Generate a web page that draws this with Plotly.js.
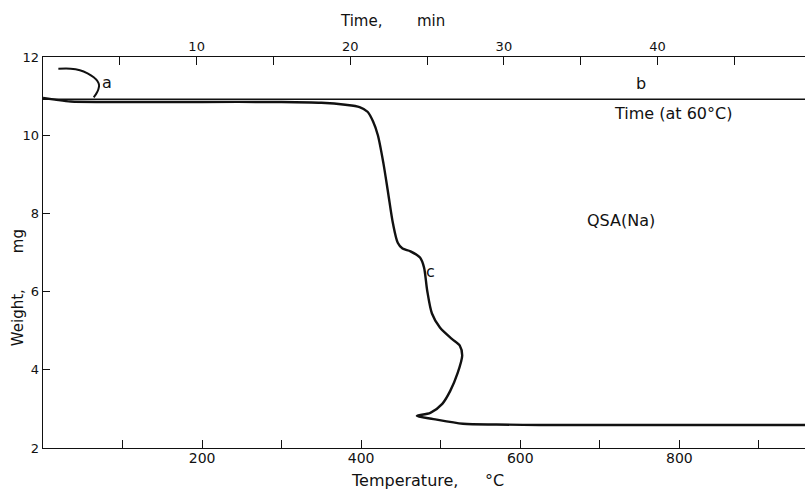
<!DOCTYPE html>
<html>
<head>
<meta charset="utf-8">
<script src="https://cdn.plot.ly/plotly-3.0.1.min.js"></script>
<style>html,body{margin:0;padding:0;background:#fff;}#chart{width:809px;height:489px;}</style>
</head>
<body>
<div id="chart"></div>
<script>
// Curve a (time axis, min)
const aTime = [1.0, 1.8, 2.4, 2.9, 3.3, 3.55, 3.65, 3.6, 3.45, 3.3];
const aWeight = [11.7, 11.7, 11.66, 11.58, 11.48, 11.38, 11.28, 11.17, 11.05, 10.97];
// Curve b (time axis, isothermal at 60 C)
const bTime = [0, 10, 20, 30, 40, 49.6];
const bWeight = [10.92, 10.92, 10.92, 10.92, 10.92, 10.92];
// Curve c (temperature axis, C)
const cTemp = [0, 15, 35, 80, 200, 300, 350, 380, 398, 408, 415, 421, 428, 434, 440, 446, 452, 462, 474, 479, 483, 489, 499, 514, 524, 527, 521, 512, 502, 487, 470, 491, 528, 570, 625, 750, 958];
const cWeight = [10.95, 10.91, 10.86, 10.85, 10.85, 10.85, 10.83, 10.78, 10.72, 10.6, 10.35, 10.0, 9.28, 8.51, 7.74, 7.25, 7.1, 7.03, 6.87, 6.62, 6.03, 5.44, 5.08, 4.79, 4.62, 4.36, 3.9, 3.46, 3.13, 2.9, 2.82, 2.74, 2.62, 2.6, 2.59, 2.59, 2.59];

const tempTicks = [100, 200, 300, 400, 500, 600, 700, 800, 900];
const tempLabels = ['', '200', '', '400', '', '600', '', '800', ''];
const timeTicks = [5, 10, 15, 20, 25, 30, 35, 40, 45];
const timeLabels = ['', '10', '', '20', '', '30', '', '40', ''];
const weightTicks = [2, 4, 6, 8, 10, 12];
const weightLabels = ['2', '4', '6', '8', '10', '12'];

const FONT = 'DejaVu Sans, sans-serif';
const INK = '#111';

const traces = [
  {x: cTemp, y: cWeight, xaxis: 'x', yaxis: 'y', mode: 'lines', line: {color: INK, width: 2.4, shape: 'spline', smoothing: 0.8}, hoverinfo: 'skip'},
  {x: bTime, y: bWeight, xaxis: 'x2', yaxis: 'y', mode: 'lines', line: {color: INK, width: 1.3}, hoverinfo: 'skip'},
  {x: aTime, y: aWeight, xaxis: 'x2', yaxis: 'y', mode: 'lines', line: {color: INK, width: 2, shape: 'spline', smoothing: 0.8}, hoverinfo: 'skip'}
];

function note(xref, yref, x, y, text, size, extra) {
  return Object.assign({xref: xref, yref: yref, x: x, y: y, text: text, showarrow: false,
    xanchor: 'center', yanchor: 'middle', font: {family: FONT, size: size, color: INK}}, extra || {});
}

const layout = {
  width: 809, height: 489,
  margin: {l: 43, r: 4, t: 57, b: 41},
  paper_bgcolor: '#fff', plot_bgcolor: '#fff',
  showlegend: false,
  font: {family: FONT, size: 12, color: INK},
  xaxis: {
    range: [0, 958], showgrid: false, zeroline: false,
    showline: true, linecolor: INK, linewidth: 1.4,
    tickmode: 'array', tickvals: tempTicks, ticktext: tempLabels,
    ticks: 'inside', ticklen: 8, tickcolor: INK, tickwidth: 1,
    ticklabelstandoff: -3,
    tickfont: {family: FONT, size: 14, color: INK}
  },
  xaxis2: {
    overlaying: 'x', side: 'top', anchor: 'y',
    range: [0, 49.6], showgrid: false, zeroline: false,
    showline: true, linecolor: INK, linewidth: 1.2,
    tickmode: 'array', tickvals: timeTicks, ticktext: timeLabels,
    ticks: 'inside', ticklen: 8, tickcolor: INK, tickwidth: 1,
    tickfont: {family: FONT, size: 13, color: INK}
  },
  yaxis: {
    range: [2, 12], showgrid: false, zeroline: false,
    showline: true, linecolor: INK, linewidth: 1.4,
    tickmode: 'array', tickvals: weightTicks, ticktext: weightLabels,
    ticks: 'inside', ticklen: 7, tickcolor: INK, tickwidth: 1,
    tickfont: {family: FONT, size: 13, color: INK}
  },
  annotations: [
    note('paper', 'paper', 0.417, 1.092, 'Time,', 15),
    note('paper', 'paper', 0.509, 1.092, 'min', 15),
    note('paper', 'paper', 0.474, -0.082, 'Temperature,', 16),
    note('paper', 'paper', 0.593, -0.082, '°C', 16),
    note('paper', 'paper', -0.0328, 0.332, 'Weight,', 15, {textangle: -90}),
    note('paper', 'paper', -0.0328, 0.529, 'mg', 15, {textangle: -90}),
    note('x2', 'y', 4.17, 11.36, 'a', 16),
    note('x2', 'y', 38.9, 11.33, 'b', 16),
    note('x2', 'y', 41.0, 10.56, 'Time (at 60°C)', 16),
    note('x', 'y', 487, 6.51, 'c', 16),
    note('x', 'y', 727, 7.82, 'QSA(Na)', 16)
  ]
};

Plotly.newPlot('chart', traces, layout, {displayModeBar: false, staticPlot: true});
</script>
</body>
</html>
